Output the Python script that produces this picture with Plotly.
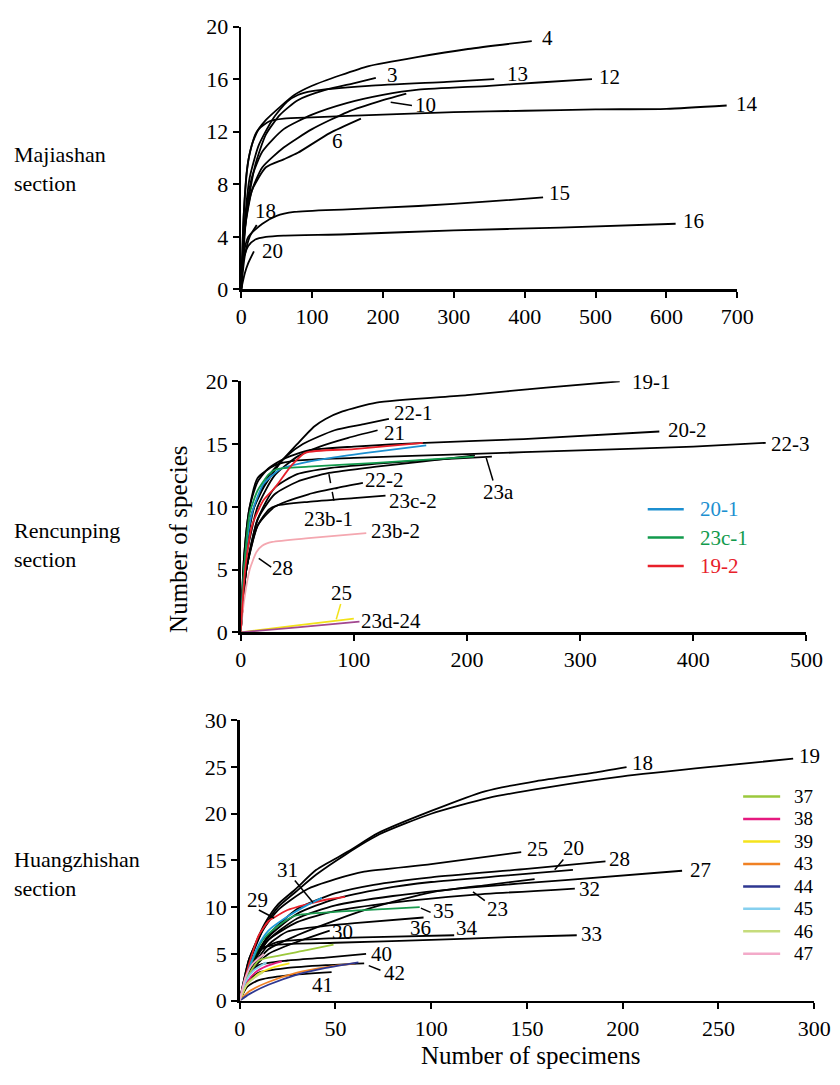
import plotly.graph_objects as go

W, H = 840, 1085
FONT = "Liberation Serif, Times New Roman, serif"

# ---------------- Panel 1: Majiashan section ----------------
maj_names = ["4", "3", "13", "12", "10", "14", "6", "15", "16", "18", "20"]
maj_x = [
    [0, 4, 10, 20, 35, 55, 75, 100, 140, 180, 250, 320, 410],
    [0, 8, 20, 35, 55, 80, 120, 160, 190],
    [0, 5, 12, 25, 45, 65, 80, 100, 180, 290, 357],
    [0, 5, 15, 30, 60, 100, 150, 200, 250, 350, 420, 495],
    [0, 5, 15, 30, 60, 100, 150, 200, 233],
    [0, 3, 8, 15, 25, 40, 60, 100, 200, 300, 400, 500, 600, 685],
    [0, 5, 15, 35, 60, 80, 125, 169],
    [0, 3, 10, 30, 50, 75, 150, 250, 350, 426],
    [0, 3, 10, 20, 35, 60, 150, 300, 450, 613],
    [0, 5, 12, 22],
    [0, 5, 10, 18],
]
maj_y = [
    [0, 6, 9.8, 11.8, 12.9, 13.9, 14.8, 15.5, 16.3, 17.0, 17.7, 18.3, 18.9],
    [0, 6, 9.5, 11.8, 13.3, 14.4, 15.2, 15.7, 16.1],
    [0, 5, 8.5, 11, 13, 14.3, 14.8, 15.1, 15.5, 15.8, 16.0],
    [0, 5, 8.5, 10.5, 12.2, 13.3, 14.2, 14.8, 15.2, 15.5, 15.75, 16.0],
    [0, 4.5, 7.5, 9.3, 10.8, 12.2, 13.5, 14.4, 14.9],
    [0, 5, 9, 11, 12.2, 12.8, 13.0, 13.1, 13.3, 13.5, 13.6, 13.7, 13.75, 14.0],
    [0, 4.5, 7.5, 9.3, 9.9, 10.4, 11.9, 13.0],
    [0, 2.5, 4.0, 5.0, 5.6, 5.9, 6.1, 6.35, 6.7, 7.0],
    [0, 2.3, 3.3, 3.8, 4.0, 4.1, 4.2, 4.5, 4.7, 5.0],
    [0, 2.5, 4, 4.9],
    [0, 1.2, 2.0, 2.9],
]
maj_label_x = [421, 203, 372, 502, 242, 696, 125, 432, 621, 17, 26]
maj_label_y = [19.1, 16.35, 16.4, 16.15, 14.07, 14.1, 11.3, 7.33, 5.23, 5.97, 2.9]
maj_leaders = [[211, 14.25, 241, 14.0]]

# ---------------- Panel 2: Rencunping section ----------------
ren_names = ["19-1", "22-1", "21", "20-2", "22-3", "23a", "23b-1", "22-2", "23c-2",
             "23b-2", "25", "23d-24", "20-1", "23c-1", "19-2"]
ren_colors = ["black"] * 9 + ["#f4a7b0", "#f2e21a", "#a2478f", "#1c8fd0", "#129a4c", "#e8202a"]
ren_x = [
    [0, 4, 10, 20, 35, 50, 65, 75, 90, 120, 200, 270, 335],
    [0, 4, 12, 25, 40, 55, 83, 110, 131],
    [0, 5, 15, 30, 50, 70, 95, 121],
    [0, 3, 8, 15, 25, 40, 60, 100, 163, 250, 370],
    [0, 3, 8, 15, 30, 50, 100, 200, 300, 400, 464],
    [0, 5, 15, 30, 50, 80, 130, 180, 222],
    [0, 5, 15, 30, 50, 78, 120, 160, 207],
    [0, 5, 15, 30, 60, 85, 108],
    [0, 5, 15, 25, 32, 60, 100, 128],
    [0, 3, 8, 14, 19, 28, 60, 111],
    [0, 50, 100],
    [0, 50, 105],
    [0, 4, 10, 20, 35, 55, 80, 120, 164],
    [0, 3, 8, 15, 25, 32, 60, 120, 206],
    [0, 4, 10, 20, 30, 45, 57, 100, 161],
]
ren_y = [
    [0, 6, 9.5, 11.5, 13.5, 15, 16.4, 17.0, 17.6, 18.3, 18.9, 19.5, 20.0],
    [0, 6, 10, 12.5, 14, 15, 16.1, 16.6, 17.0],
    [0, 6, 10, 12.5, 14, 14.8, 15.5, 16.1],
    [0, 6, 10, 12, 13.1, 13.9, 14.5, 14.8, 15.1, 15.4, 16.0],
    [0, 6, 10, 12.3, 13.3, 13.7, 13.9, 14.2, 14.5, 14.8, 15.1],
    [0, 5, 9, 11.5, 12.6, 13.1, 13.5, 13.8, 14.0],
    [0, 5, 9, 11, 12, 12.7, 13.2, 13.6, 14.1],
    [0, 5, 8.5, 10, 11, 11.5, 11.9],
    [0, 5, 8.5, 9.8, 10.1, 10.4, 10.7, 10.9],
    [0, 2.5, 5, 6.4, 6.9, 7.2, 7.5, 7.9],
    [0, 0.55, 1.1],
    [0, 0.4, 0.86],
    [0, 6, 9.5, 11.8, 13.0, 13.5, 13.9, 14.4, 14.9],
    [0, 5, 9.5, 11.3, 12.6, 13.0, 13.2, 13.5, 14.0],
    [0, 5, 8.5, 10.5, 11.5, 13.3, 14.3, 14.6, 15.1],
]
ren_text = ["19-1", "22-1", "21", "20-2", "22-3", "23a", "22-2", "23c-2", "23b-1", "23b-2", "28", "25", "23d-24"]
ren_text_x = [344, 134, 125, 376, 467, 212, 108, 129, 54, 113, 26, 78, 105]
ren_text_y = [19.95, 17.5, 15.9, 16.1, 15.0, 11.2, 12.1, 10.5, 9.0, 8.05, 5.1, 3.1, 0.9]
ren_leaders = [[217, 13.9, 223, 12.1], [16, 5.9, 27, 5.2]]
ren_dashed_leaders = [[78, 12.6, 83.6, 9.9]]
ren_yellow_leaders = [[88.4, 2.26, 84.5, 1.04]]
ren_legend = ["20-1", "23c-1", "19-2"]
ren_legend_colors = ["#1c8fd0", "#129a4c", "#e8202a"]

# ---------------- Panel 3: Huangzhishan section ----------------
hzs_names = ["19", "18", "25", "28", "20", "27", "23", "32", "36", "34", "33", "30",
             "40", "42", "41", "35", "29", "31",
             "37", "38", "39", "43", "44", "45", "46", "47"]
hzs_colors = ["black"] * 15 + ["#1a9a4e", "#e8202a", "#1c9ad6",
                               "#9bc83c", "#e5197f", "#f5e31c", "#f08124", "#2e3791",
                               "#86d0ef", "#c6dc7c", "#f3aac9"]
hzs_x = [
    [0, 5, 13, 20, 29, 40, 55, 73, 100, 130, 160, 200, 250, 289],
    [0, 5, 13, 20, 29, 40, 57, 72, 100, 128, 155, 185, 202],
    [0, 5, 12, 20, 35, 50, 65, 100, 147],
    [0, 5, 15, 30, 50, 70, 100, 150, 191],
    [0, 5, 15, 30, 50, 75, 100, 140, 174],
    [0, 5, 15, 30, 50, 80, 120, 170, 231],
    [0, 5, 15, 30, 50, 70, 100, 130, 154],
    [0, 5, 15, 30, 50, 80, 120, 175],
    [0, 5, 15, 25, 40, 60, 96],
    [0, 4, 10, 20, 40, 70, 112],
    [0, 4, 10, 20, 50, 100, 140, 176],
    [0, 5, 15, 30, 47],
    [0, 4, 10, 25, 45, 66],
    [0, 4, 10, 25, 45, 65],
    [0, 4, 10, 25, 48],
    [0, 5, 12, 20, 29, 50, 75, 94],
    [0, 5, 10, 15, 18, 25, 35, 45, 55],
    [0, 5, 10, 15, 25, 35, 43],
    [0, 4, 10, 20, 35, 49],
    [0, 4, 8, 14, 22],
    [0, 4, 10, 18, 26],
    [0, 5, 15, 30, 45, 60],
    [0, 5, 15, 30, 45, 62],
    [0, 3, 7, 14],
    [0, 3, 8, 12],
    [0, 3, 7, 12.7],
]
hzs_y = [
    [0, 4.5, 7.9, 10, 11.6, 13.5, 15.6, 17.8, 20.0, 21.7, 22.8, 24.0, 25.1, 25.9],
    [0, 4.5, 8.2, 10.3, 11.9, 14, 16, 17.9, 20.3, 22.4, 23.5, 24.4, 25.0],
    [0, 4, 7.5, 9.7, 11.9, 13.0, 13.8, 14.6, 15.9],
    [0, 3.5, 7, 9.8, 11.5, 12.4, 13.2, 14.1, 14.9],
    [0, 3.5, 6.8, 9.3, 10.9, 12, 12.7, 13.4, 14.0],
    [0, 3.3, 6.5, 8.8, 10.2, 11.2, 12.1, 12.9, 13.9],
    [0, 3, 5.5, 7.0, 8.6, 10, 11.6, 12.4, 13.0],
    [0, 3.3, 6.5, 8.4, 9.6, 10.5, 11.3, 12.0],
    [0, 3, 6, 7.4, 7.9, 8.3, 8.9],
    [0, 3, 5.3, 6.3, 6.6, 6.8, 7.0],
    [0, 3, 5.5, 6.0, 6.2, 6.5, 6.8, 7.0],
    [0, 3, 5, 6.3, 7.5],
    [0, 2.5, 3.8, 4.3, 4.6, 5.0],
    [0, 2, 3.0, 3.5, 3.8, 4.0],
    [0, 1.5, 2.2, 2.7, 3.05],
    [0, 3.5, 6.5, 8, 9.1, 9.5, 9.8, 10.0],
    [0, 4, 7, 8.5, 8.9, 9.7, 10.3, 10.8, 11.1],
    [0, 3.5, 6, 7.5, 9.0, 10.2, 11.0],
    [0, 2.5, 4.3, 4.8, 5.4, 6.0],
    [0, 2, 3, 3.7, 4.2],
    [0, 1.8, 2.9, 3.6, 4.0],
    [0, 1.0, 2.0, 3.0, 3.6, 4.0],
    [0, 0.7, 1.7, 2.8, 3.5, 4.1],
    [0, 2, 3.2, 4.1],
    [0, 1.5, 2.5, 3.0],
    [0, 2.5, 4, 5.0],
]
hzs_text = ["18", "19", "25", "20", "28", "27", "32", "23", "35", "36", "34", "33",
            "30", "40", "42", "41", "31", "29"]
hzs_text_x = [204, 291, 149, 168, 192, 234, 176, 128, 99.7, 88, 112, 177,
              47.3, 67.4, 74.5, 36.6, 18.7, 3]
hzs_text_y = [25.4, 26.2, 16.2, 16.3, 15.2, 14.0, 12.0, 9.8, 9.6, 7.8, 7.8, 7.1,
              7.35, 5.0, 2.95, 1.7, 14.0, 10.75]
hzs_leaders = [[164.5, 14.0, 169, 15.1], [121.8, 11.65, 128, 10.7], [94.6, 9.9, 99.7, 9.45],
               [67.4, 3.75, 73.5, 3.25], [28.8, 12.85, 38.3, 10.5], [10, 9.7, 18, 8.85]]
hzs_legend = ["37", "38", "39", "43", "44", "45", "46", "47"]
hzs_legend_colors = ["#9bc83c", "#e5197f", "#f5e31c", "#f08124", "#2e3791",
                     "#86d0ef", "#c6dc7c", "#f3aac9"]

section_labels = ["Majiashan<br>section", "Rencunping<br>section", "Huangzhishan<br>section"]


def px_x(p):
    return p / W


def px_y(p):
    return 1 - p / H


fig = go.Figure()


def add_curves(names, xs, ys, colors, xa, ya):
    for n, x, y, c in zip(names, xs, ys, colors):
        fig.add_trace(go.Scatter(x=x, y=y, mode="lines", name=n, xaxis=xa, yaxis=ya,
                                 line=dict(color=c, width=1.8, shape="spline", smoothing=0.6),
                                 showlegend=False, hoverinfo="skip"))


def add_leaders(leaders, xa, ya, color="black", dash="solid"):
    for x0, y0, x1, y1 in leaders:
        fig.add_trace(go.Scatter(x=[x0, x1], y=[y0, y1], mode="lines", xaxis=xa, yaxis=ya,
                                 line=dict(color=color, width=1.5, dash=dash),
                                 showlegend=False, hoverinfo="skip"))


def add_labels(texts, xs, ys, xref, yref):
    for t, x, y in zip(texts, xs, ys):
        fig.add_annotation(text=t, x=x, y=y, xref=xref, yref=yref, xanchor="left",
                           yanchor="middle", showarrow=False,
                           font=dict(family=FONT, size=21, color="black"))


# Panel 1
add_curves(maj_names, maj_x, maj_y, ["black"] * len(maj_names), "x", "y")
add_leaders(maj_leaders, "x", "y")
add_labels(maj_names, maj_label_x, maj_label_y, "x", "y")

# Panel 2
add_curves(ren_names, ren_x, ren_y, ren_colors, "x2", "y2")
add_leaders(ren_leaders, "x2", "y2")
add_leaders(ren_dashed_leaders, "x2", "y2", dash="dash")
add_leaders(ren_yellow_leaders, "x2", "y2", color="#f2e21a")
add_labels(ren_text, ren_text_x, ren_text_y, "x2", "y2")

# Panel 3
add_curves(hzs_names, hzs_x, hzs_y, hzs_colors, "x3", "y3")
add_leaders(hzs_leaders, "x3", "y3")
add_labels(hzs_text, hzs_text_x, hzs_text_y, "x3", "y3")

# Manual legends (paper coordinates)
for i, (t, c) in enumerate(zip(ren_legend, ren_legend_colors)):
    yy = px_y(509 + i * 29)
    fig.add_shape(type="line", xref="paper", yref="paper", x0=px_x(660), x1=px_x(697),
                  y0=yy, y1=yy, line=dict(color=c, width=2.5))
    fig.add_annotation(text=t, x=px_x(712), y=yy, xref="paper", yref="paper",
                       xanchor="left", yanchor="middle", showarrow=False,
                       font=dict(family=FONT, size=21, color=c))

for i, (t, c) in enumerate(zip(hzs_legend, hzs_legend_colors)):
    yy = px_y(803 + i * 23)
    fig.add_shape(type="line", xref="paper", yref="paper", x0=px_x(758), x1=px_x(796),
                  y0=yy, y1=yy, line=dict(color=c, width=2.5))
    fig.add_annotation(text=t, x=px_x(808), y=yy, xref="paper", yref="paper",
                       xanchor="left", yanchor="middle", showarrow=False,
                       font=dict(family=FONT, size=19, color="black"))

# Section labels and axis titles
for s, ymid in zip(section_labels, [161, 546, 882]):
    fig.add_annotation(text=s, x=px_x(7), y=px_y(ymid), xref="paper", yref="paper",
                       xanchor="left", yanchor="middle", align="left", showarrow=False,
                       font=dict(family=FONT, size=22, color="black"))

fig.add_annotation(text="Number of species", x=px_x(178), y=px_y(540), xref="paper", yref="paper",
                   textangle=-90, showarrow=False, xanchor="center", yanchor="middle",
                   font=dict(family=FONT, size=25, color="black"))
fig.add_annotation(text="Number of specimens", x=px_x(540), y=px_y(1068), xref="paper", yref="paper",
                   showarrow=False, xanchor="center", yanchor="middle",
                   font=dict(family=FONT, size=25, color="black"))

axis_common = dict(showline=True, linecolor="black", linewidth=2.5, ticks="outside",
                   ticklen=6, tickwidth=2, tickcolor="black", showgrid=False, zeroline=False,
                   tickfont=dict(family=FONT, size=22, color="black"), fixedrange=True)

fig.update_layout(
    width=W, height=H, margin=dict(l=0, r=0, t=0, b=0),
    paper_bgcolor="white", plot_bgcolor="white", showlegend=False,
    xaxis=dict(domain=[px_x(242.5), px_x(752)], range=[0, 700], dtick=100, anchor="y", **axis_common),
    yaxis=dict(domain=[px_y(284), px_y(15)], range=[0, 20], dtick=4, anchor="x", **axis_common),
    xaxis2=dict(domain=[px_x(242), px_x(823)], range=[0, 500], dtick=100, anchor="y2", **axis_common),
    yaxis2=dict(domain=[px_y(635), px_y(378)], range=[0, 20], dtick=5, anchor="x2", **axis_common),
    xaxis3=dict(domain=[px_x(241), px_x(831)], range=[0, 300], dtick=50, anchor="y3", **axis_common),
    yaxis3=dict(domain=[px_y(1012), px_y(725)], range=[0, 30], dtick=5, anchor="x3", **axis_common),
)

fig.write_html("out.html", config={"displayModeBar": False, "staticPlot": True},
               post_script="document.body.style.margin='0px';document.body.style.overflow='hidden';")
